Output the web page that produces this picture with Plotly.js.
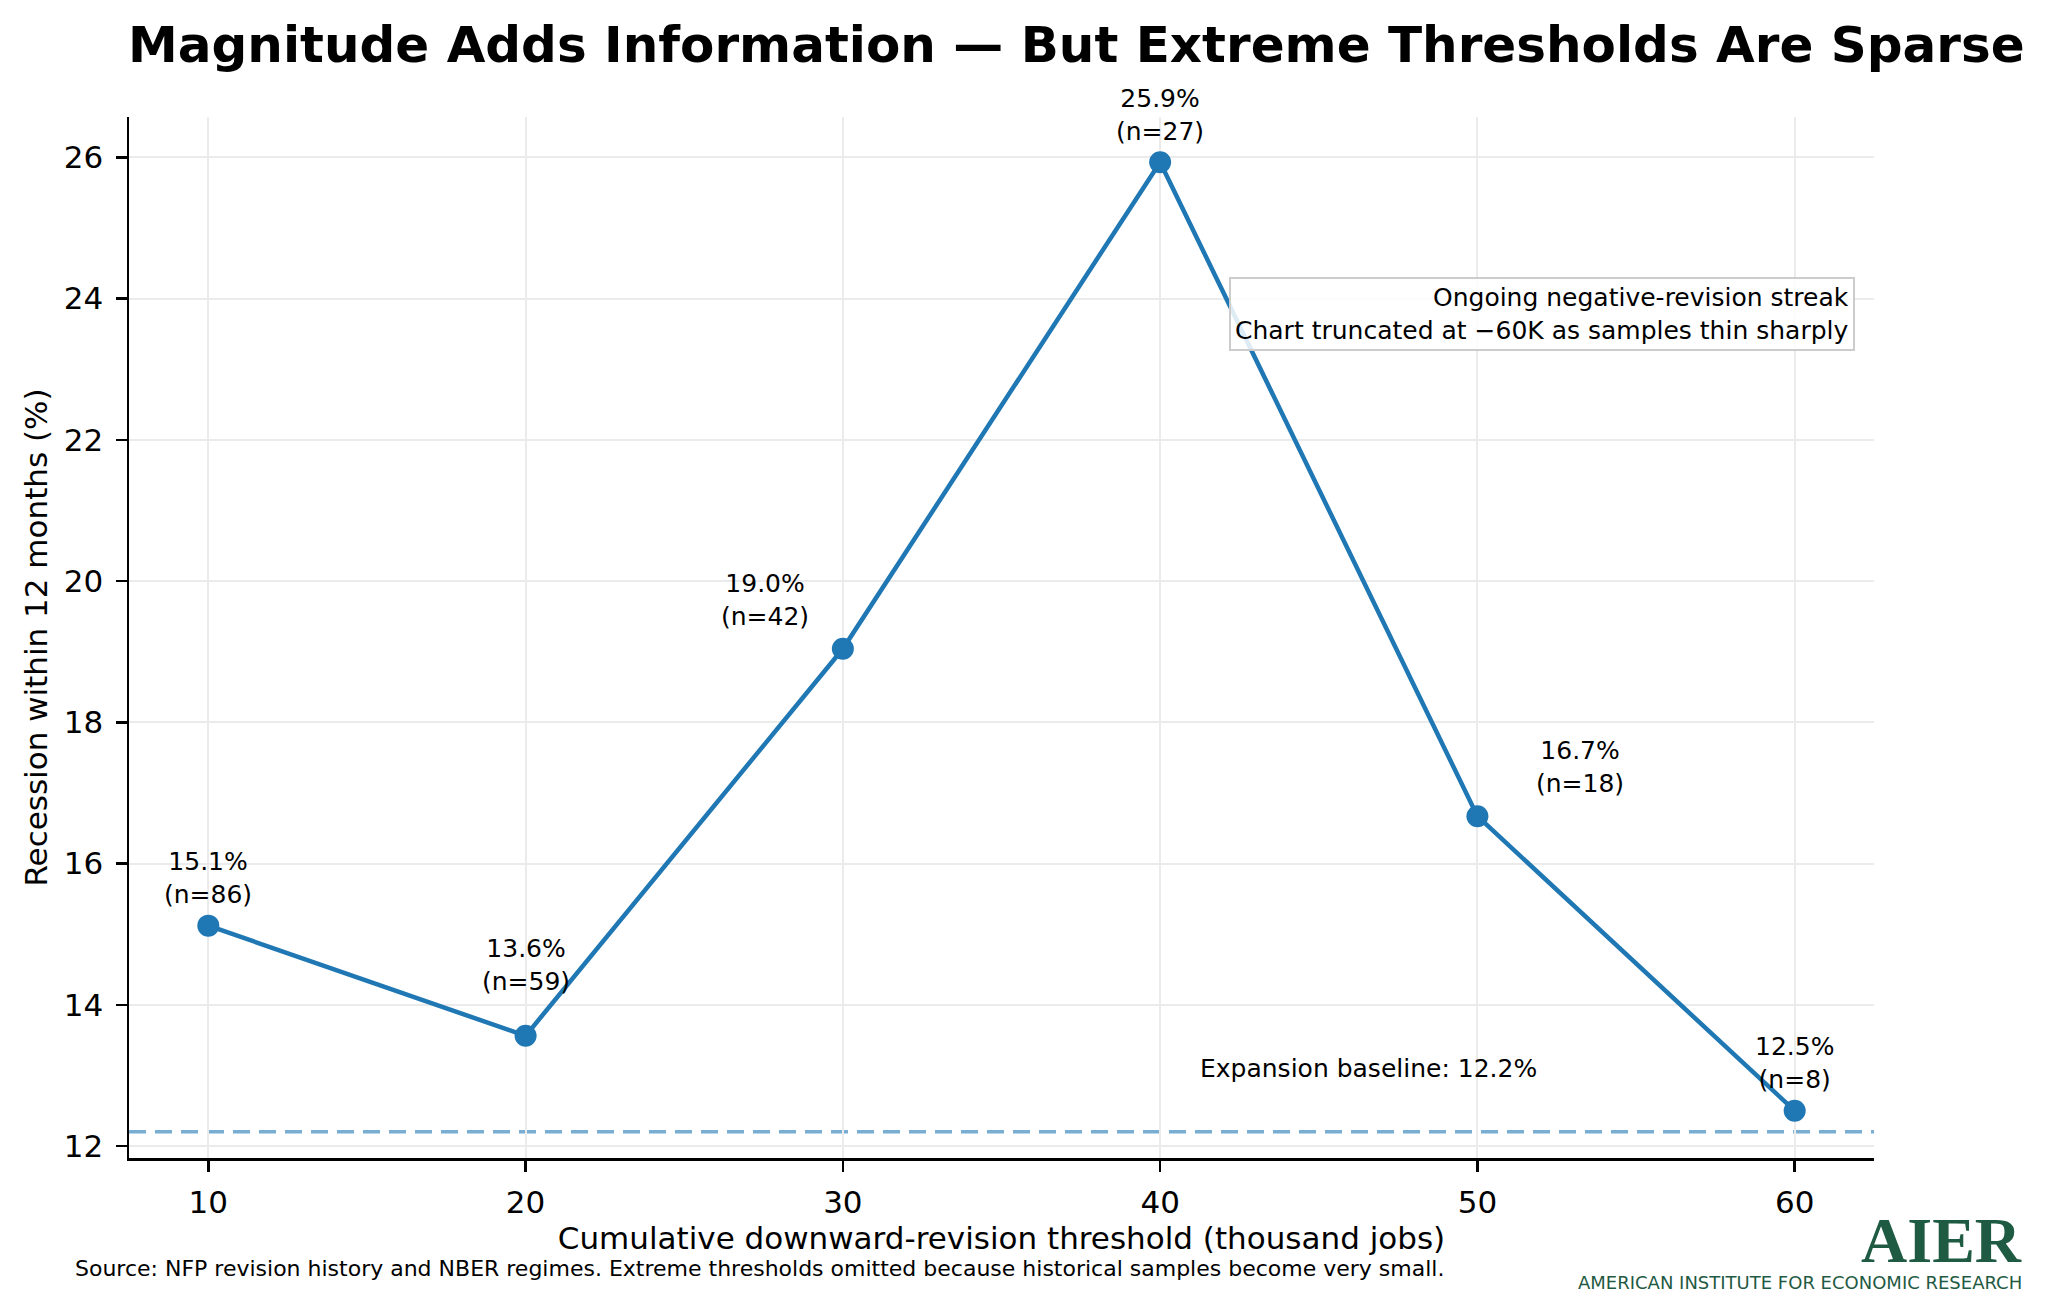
<!DOCTYPE html>
<html>
<head>
<meta charset="utf-8">
<script src="https://cdn.plot.ly/plotly-3.0.1.min.js"></script>
<style>
    html, body { margin: 0; padding: 0; background: white; }
    #chart { width: 2048px; height: 1312px; }
</style>
</head>
<body>
<div id="chart"></div>
<script>
// values
const thresholds = [10, 20, 30, 40, 50, 60];
const recessionPct = [15.12, 13.56, 19.04, 25.93, 16.67, 12.5];
const sampleSizes = [86, 59, 42, 27, 18, 8];
const baselinePct = 12.2;
const yTicks = [12, 14, 16, 18, 20, 22, 24, 26];

// pixel offsets of each label from its point (style only)
const labelShift = [[0, 48], [0, 71], [-78, 49], [0, 47], [103, 49], [0, 48]];

const FONT = 'DejaVu Sans';
const BLUE = '#1f77b4';
const GREEN = '#1f5a43';

const config = {
    displayModeBar: false,
    staticPlot: true,
};

function point_labels() {
    const notes = [];
    for (let i = 0; i < thresholds.length; i++) {
        notes.push({
            x: thresholds[i], y: recessionPct[i],
            text: recessionPct[i].toFixed(1) + '%<br>(n=' + sampleSizes[i] + ')',
            showarrow: false,
            xanchor: 'center', yanchor: 'middle',
            xshift: labelShift[i][0], yshift: labelShift[i][1],
            font: {family: FONT, size: 25, color: 'black'},
        });
    }
    return notes;
}

function axis_style() {
    return {
        showline: true, linecolor: 'black', linewidth: 2.5,
        ticks: 'outside', ticklen: 11, tickwidth: 2.5, tickcolor: 'black',
        tickfont: {family: FONT, size: 31, color: 'black'},
        showgrid: true, gridcolor: '#ebebeb', gridwidth: 2,
        zeroline: false, mirror: false,
    };
}

const trace = {
    x: thresholds, y: recessionPct,
    mode: 'lines+markers', type: 'scatter',
    line: {color: BLUE, width: 4.5},
    marker: {color: BLUE, size: 22},
    showlegend: false,
    cliponaxis: false,
};

const layout = {
    width: 2048, height: 1312, autosize: false,
    paper_bgcolor: 'white', plot_bgcolor: 'white',
    margin: {l: 129, r: 174, t: 117, b: 154},
    font: {family: FONT, color: 'black'},
    title: {
        text: 'Magnitude Adds Information — But Extreme Thresholds Are Sparse',
        font: {family: FONT, size: 50, weight: 700, color: 'black'},
        xref: 'container', yref: 'container',
        x: 128 / 2048, xanchor: 'left',
        y: 1 - 44 / 1312, yanchor: 'middle',
    },
    xaxis: Object.assign(axis_style(), {
        range: [7.5, 62.5],
        tickvals: thresholds,
        ticklabelstandoff: 4,
        title: {text: 'Cumulative downward-revision threshold (thousand jobs)',
                font: {family: FONT, size: 31, color: 'black'}, standoff: 8},
    }),
    yaxis: Object.assign(axis_style(), {
        range: [11.83, 26.57],
        tickvals: yTicks,
        ticklabelstandoff: 6,
        title: {text: 'Recession within 12 months (%)',
                font: {family: FONT, size: 31, color: 'black'}, standoff: 7},
    }),
    shapes: [{
        type: 'line', xref: 'paper', yref: 'y',
        x0: 0, x1: 1, y0: baselinePct, y1: baselinePct,
        line: {color: 'rgba(31,119,180,0.6)', width: 3.5, dash: '17px,9px'},
        layer: 'below',
    }],
    annotations: point_labels().concat([
        {
            x: 41.2, y: baselinePct, xanchor: 'left', yanchor: 'middle', yshift: 63,
            text: 'Expansion baseline: ' + baselinePct.toFixed(1) + '%',
            showarrow: false, font: {family: FONT, size: 25, color: 'black'},
        },
        {
            xref: 'paper', yref: 'paper', x: 0.9891, y: 0.8463,
            xanchor: 'right', yanchor: 'top', align: 'right',
            text: 'Ongoing negative-revision streak<br>Chart truncated at −60K as samples thin sharply',
            showarrow: false, font: {family: FONT, size: 25, color: 'black'},
            bgcolor: 'rgba(255,255,255,0.85)', bordercolor: '#cccccc',
            borderwidth: 2, borderpad: 4,
        },
        {
            xref: 'paper', yref: 'paper', x: -0.0321, y: -0.1057,
            xanchor: 'left', yanchor: 'middle',
            text: 'Source: NFP revision history and NBER regimes. Extreme thresholds omitted because historical samples become very small.',
            showarrow: false, font: {family: FONT, size: 22, color: 'black'},
        },
        {
            xref: 'paper', yref: 'paper', x: 1.086, y: -0.0788,
            xanchor: 'right', yanchor: 'middle',
            text: 'AIER', showarrow: false,
            font: {family: 'Liberation Serif', size: 64, weight: 700, color: GREEN},
        },
        {
            xref: 'paper', yref: 'paper', x: 1.086, y: -0.1192,
            xanchor: 'right', yanchor: 'middle',
            text: 'AMERICAN INSTITUTE FOR ECONOMIC RESEARCH', showarrow: false,
            font: {family: FONT, size: 18, color: GREEN},
        },
    ]),
};

Plotly.newPlot('chart', [trace], layout, config);
</script>
</body>
</html>
